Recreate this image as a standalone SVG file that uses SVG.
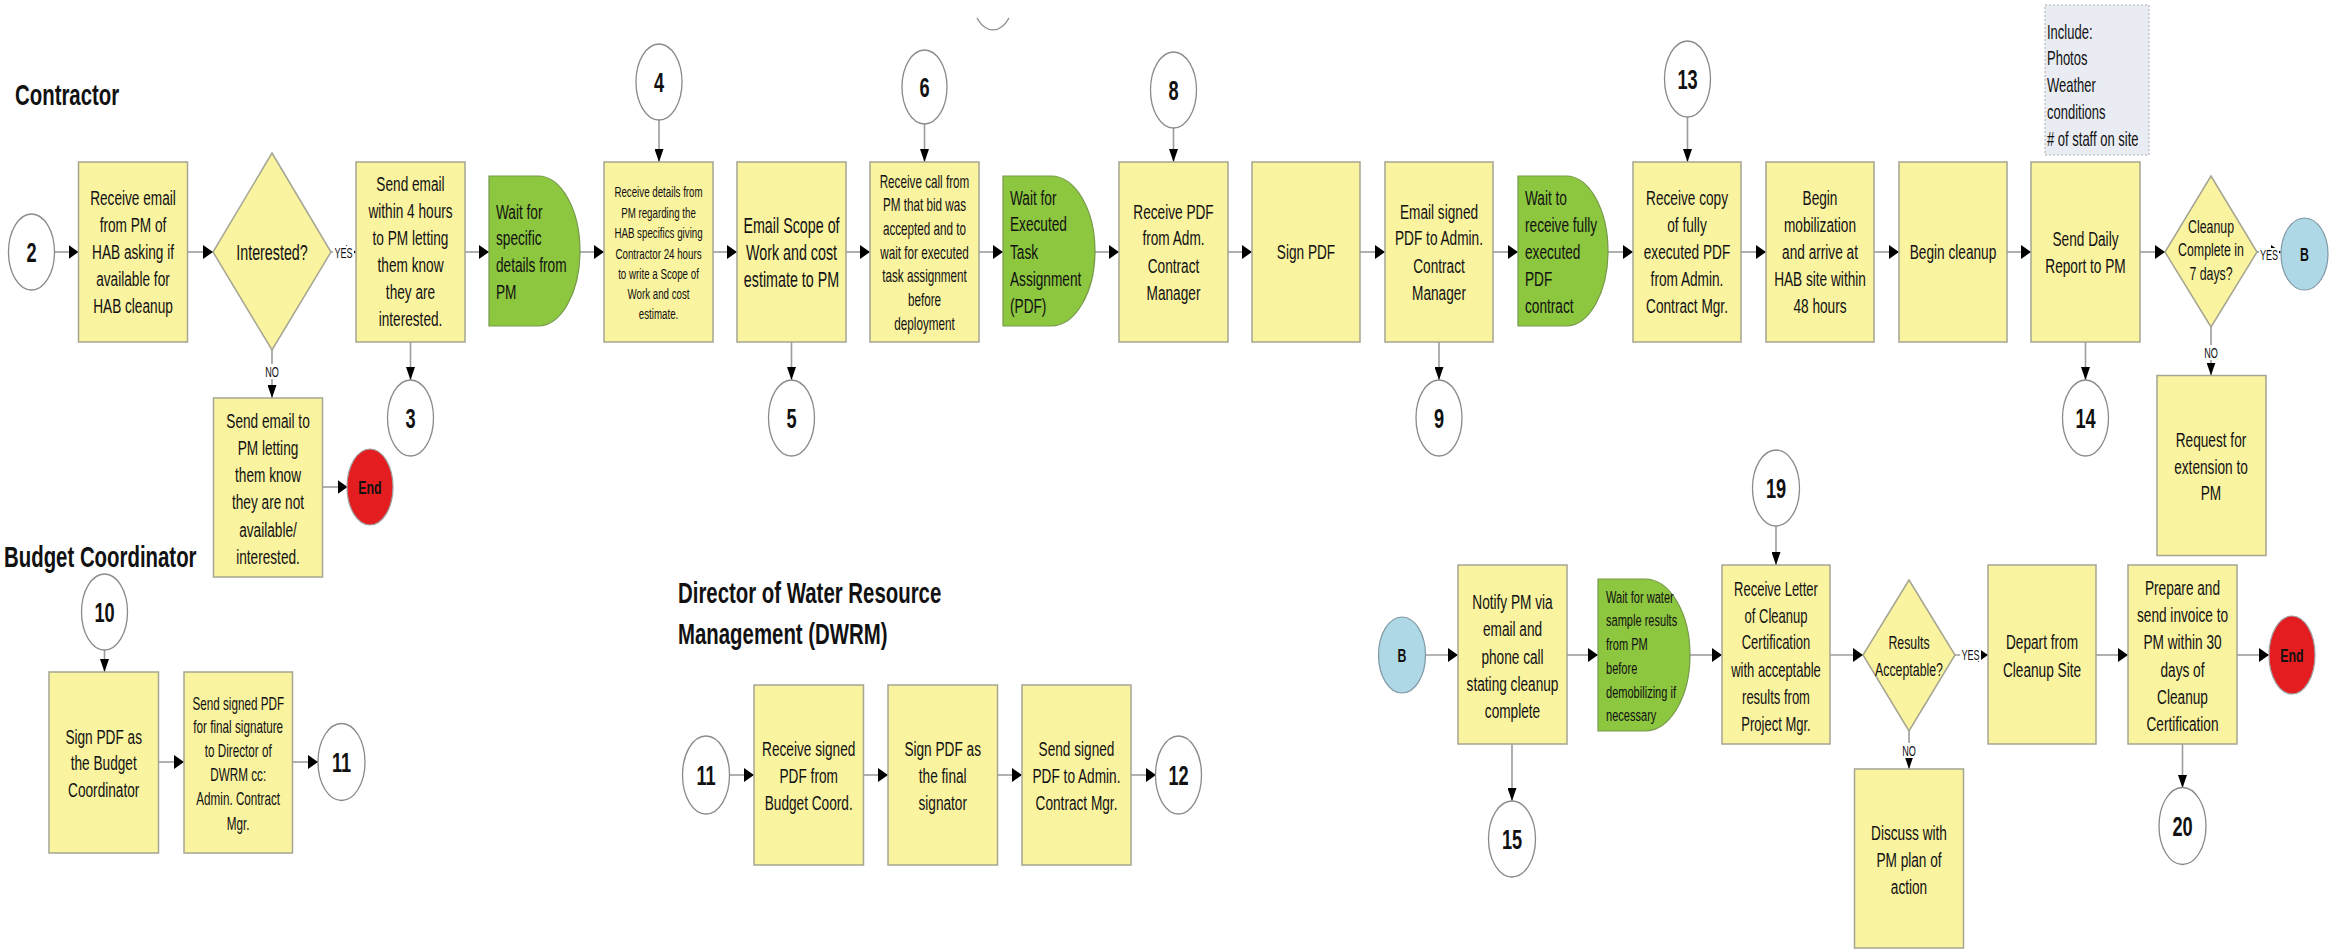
<svg xmlns="http://www.w3.org/2000/svg" width="2344" height="951" viewBox="0 0 2344 951">
<style>
.box{fill:#faf3a0;stroke:#a5a592;stroke-width:1.5}
.grn{fill:#8dc63f;stroke:#76994a;stroke-width:1.2}
.con{fill:#fff;stroke:#8a8a8a;stroke-width:1.3}
.end{fill:#e41e20;stroke:#a0a0a0;stroke-width:1.2}
.off{fill:#aed8e6;stroke:#7f98a5;stroke-width:1.2}
.note{fill:#e9ecf3;stroke:#aaaaaa;stroke-width:1;stroke-dasharray:2 2}
.t{font-family:"Liberation Sans",Arial,sans-serif;font-size:21px;text-anchor:middle;fill:#111}
.tl{text-anchor:start}
.b{font-weight:bold}
.h{font-size:30px;font-weight:bold;text-anchor:start}
.n{font-size:28px;font-weight:bold}
.lbl{font-size:14px}
.edge{fill:none;stroke:#9c9c9c;stroke-width:1.6;marker-end:url(#ah)}
.ev{marker-end:url(#av)}
.lb{fill:#fff}
</style>
<defs>
<marker id="ah" markerUnits="userSpaceOnUse" markerWidth="10" markerHeight="14" refX="10" refY="7" orient="auto" viewBox="0 0 10 14"><path d="M0,0 L10,7 L0,14 z" fill="#000"/></marker>
<marker id="av" markerUnits="userSpaceOnUse" markerWidth="13" markerHeight="9" refX="13" refY="4.5" orient="auto" viewBox="0 0 13 9"><path d="M0,0 L13,4.5 L0,9 z" fill="#000"/></marker>
</defs>
<rect width="2344" height="951" fill="#fff"/>

<g id="lane-labels">
<g transform="translate(15 0) scale(.68 1)"><text class="t h" x="0" y="105">Contractor</text></g>
<g transform="translate(4 0) scale(.68 1)"><text class="t h" x="0" y="567">Budget Coordinator</text></g>
<g transform="translate(678 0) scale(.68 1)"><text class="t h"><tspan x="0" y="603">Director of Water Resource</tspan><tspan x="0" y="644">Management (DWRM)</tspan></text></g>
</g>

<g id="connectors">
<line class="edge" x1="54.5" y1="252" x2="78.5" y2="252"/>
<line class="edge" x1="187.5" y1="252" x2="213" y2="252"/>
<line class="edge" x1="331" y1="252" x2="356" y2="252"/>
<line class="edge ev" x1="272" y1="350" x2="272" y2="398"/>
<line class="edge" x1="322" y1="487" x2="347.5" y2="487"/>
<line class="edge ev" x1="410.5" y1="342" x2="410.5" y2="380"/>
<line class="edge" x1="465" y1="252" x2="489" y2="252"/>
<line class="edge" x1="580" y1="252" x2="604" y2="252"/>
<line class="edge ev" x1="659" y1="120" x2="659" y2="162"/>
<line class="edge" x1="713" y1="252" x2="737" y2="252"/>
<line class="edge ev" x1="791.5" y1="342" x2="791.5" y2="380"/>
<line class="edge" x1="846" y1="252" x2="870" y2="252"/>
<line class="edge ev" x1="924.5" y1="124" x2="924.5" y2="162"/>
<line class="edge" x1="979" y1="252" x2="1003" y2="252"/>
<line class="edge" x1="1095" y1="252" x2="1119" y2="252"/>
<line class="edge ev" x1="1173.5" y1="128" x2="1173.5" y2="162"/>
<line class="edge" x1="1228" y1="252" x2="1252" y2="252"/>
<line class="edge" x1="1360" y1="252" x2="1385" y2="252"/>
<line class="edge ev" x1="1439" y1="342" x2="1439" y2="380"/>
<line class="edge" x1="1493" y1="252" x2="1518" y2="252"/>
<line class="edge" x1="1608" y1="252" x2="1633" y2="252"/>
<line class="edge ev" x1="1687.5" y1="117" x2="1687.5" y2="162"/>
<line class="edge" x1="1741" y1="252" x2="1766" y2="252"/>
<line class="edge" x1="1874" y1="252" x2="1899" y2="252"/>
<line class="edge" x1="2007" y1="252" x2="2031" y2="252"/>
<line class="edge ev" x1="2085.5" y1="342" x2="2085.5" y2="380"/>
<line class="edge" x1="2140" y1="252" x2="2165" y2="252"/>
<line class="edge" x1="2257" y1="252" x2="2281" y2="252"/>
<line class="edge ev" x1="2211" y1="327" x2="2211" y2="375.5"/>
<line class="edge ev" x1="104.5" y1="650" x2="104.5" y2="672"/>
<line class="edge" x1="158.5" y1="762" x2="184" y2="762"/>
<line class="edge" x1="292.5" y1="762" x2="318" y2="762"/>
<line class="edge" x1="729.5" y1="775" x2="754" y2="775"/>
<line class="edge" x1="863.5" y1="775" x2="888" y2="775"/>
<line class="edge" x1="997.5" y1="775" x2="1022" y2="775"/>
<line class="edge" x1="1131" y1="775" x2="1156" y2="775"/>
<line class="edge" x1="1425.5" y1="655" x2="1458" y2="655"/>
<line class="edge" x1="1567" y1="655" x2="1598" y2="655"/>
<line class="edge ev" x1="1512" y1="744" x2="1512" y2="801"/>
<line class="edge" x1="1690" y1="655" x2="1722" y2="655"/>
<line class="edge ev" x1="1776" y1="526" x2="1776" y2="565"/>
<line class="edge" x1="1830" y1="655" x2="1863" y2="655"/>
<line class="edge" x1="1955" y1="655" x2="1988" y2="655"/>
<line class="edge ev" x1="1909" y1="731" x2="1909" y2="769"/>
<line class="edge" x1="2096" y1="655" x2="2128" y2="655"/>
<line class="edge" x1="2237" y1="655" x2="2269" y2="655"/>
<line class="edge ev" x1="2182.5" y1="744" x2="2182.5" y2="788"/>
<rect class="lb" x="333" y="246" width="21" height="13"/>
<g transform="translate(343.5 0) scale(.65 1)"><text class="t lbl" x="0" y="258">YES</text></g>
<rect class="lb" x="262" y="364" width="20" height="15"/>
<g transform="translate(272 0) scale(.65 1)"><text class="t lbl" x="0" y="377">NO</text></g>
<rect class="lb" x="2259" y="248" width="20" height="13"/>
<g transform="translate(2269 0) scale(.65 1)"><text class="t lbl" x="0" y="260">YES</text></g>
<rect class="lb" x="2201" y="345" width="20" height="15"/>
<g transform="translate(2211 0) scale(.65 1)"><text class="t lbl" x="0" y="358">NO</text></g>
<rect class="lb" x="1960" y="648" width="21" height="13"/>
<g transform="translate(1970.5 0) scale(.65 1)"><text class="t lbl" x="0" y="660">YES</text></g>
<rect class="lb" x="1899" y="743" width="20" height="15"/>
<g transform="translate(1909 0) scale(.65 1)"><text class="t lbl" x="0" y="756">NO</text></g>
</g>

<g id="c-top-partial"><path d="M977,18 A22,38 0 0 0 1009,18" fill="none" stroke="#8a8a8a" stroke-width="1.3"/></g>

<g id="c2"><ellipse class="con" cx="31.5" cy="252" rx="23" ry="38"/><g transform="translate(31.5 0) scale(.65 1)"><text class="t n" x="0" y="262">2</text></g></g>

<g id="s1"><rect class="box" x="78.5" y="162" width="109" height="180"/><g transform="translate(133 0) scale(.65 1)"><text class="t"><tspan x="0" y="205">Receive email</tspan><tspan x="0" y="232">from PM of</tspan><tspan x="0" y="259">HAB asking if</tspan><tspan x="0" y="286">available for</tspan><tspan x="0" y="313">HAB cleanup</tspan></text></g></g>

<g id="d1"><polygon class="box" points="272,153 331,252 272,350 213,252"/><g transform="translate(272 0) scale(.65 1)"><text class="t" style="font-size:22px" x="0" y="260">Interested?</text></g></g>

<g id="s-no"><rect class="box" x="213.5" y="398" width="109" height="179"/><g transform="translate(268 0) scale(.65 1)"><text class="t"><tspan x="0" y="428">Send email to</tspan><tspan x="0" y="455.5">PM letting</tspan><tspan x="0" y="482">them know</tspan><tspan x="0" y="509.5">they are not</tspan><tspan x="0" y="537">available/</tspan><tspan x="0" y="564">interested.</tspan></text></g></g>

<g id="end1"><ellipse class="end" cx="370" cy="487" rx="23" ry="38"/><g transform="translate(370 0) scale(.65 1)"><text class="t b" style="font-size:19px" x="0" y="494">End</text></g></g>

<g id="s3"><rect class="box" x="356" y="162" width="109" height="180"/><g transform="translate(410.5 0) scale(.65 1)"><text class="t"><tspan x="0" y="191">Send email</tspan><tspan x="0" y="218">within 4 hours</tspan><tspan x="0" y="245">to PM letting</tspan><tspan x="0" y="272">them know</tspan><tspan x="0" y="299">they are</tspan><tspan x="0" y="326">interested.</tspan></text></g></g>

<g id="c3"><ellipse class="con" cx="410.5" cy="418" rx="23" ry="38"/><g transform="translate(410.5 0) scale(.65 1)"><text class="t n" x="0" y="428">3</text></g></g>

<g id="w1"><path class="grn" d="M489,176 H538 A42,75 0 0 1 580,251 A42,75 0 0 1 538,326 H489 Z"/><g transform="translate(496 0) scale(.65 1)"><text class="t tl"><tspan x="0" y="219">Wait for</tspan><tspan x="0" y="245">specific</tspan><tspan x="0" y="272">details from</tspan><tspan x="0" y="299">PM</tspan></text></g></g>

<g id="c4"><ellipse class="con" cx="659" cy="82" rx="23" ry="38"/><g transform="translate(659 0) scale(.65 1)"><text class="t n" x="0" y="92">4</text></g></g>

<g id="s4"><rect class="box" x="604" y="162" width="109" height="180"/><g transform="translate(658.5 0) scale(.65 1)"><text class="t" style="font-size:15px"><tspan x="0" y="197">Receive details from</tspan><tspan x="0" y="218">PM regarding the</tspan><tspan x="0" y="238">HAB specifics giving</tspan><tspan x="0" y="259">Contractor 24 hours</tspan><tspan x="0" y="279">to write a Scope of</tspan><tspan x="0" y="299">Work and cost</tspan><tspan x="0" y="319">estimate.</tspan></text></g></g>

<g id="s5"><rect class="box" x="737" y="162" width="109" height="180"/><g transform="translate(791.5 0) scale(.65 1)"><text class="t" style="font-size:22px"><tspan x="0" y="233">Email Scope of</tspan><tspan x="0" y="260">Work and cost</tspan><tspan x="0" y="287">estimate to PM</tspan></text></g></g>

<g id="c5"><ellipse class="con" cx="791.5" cy="418" rx="23" ry="38"/><g transform="translate(791.5 0) scale(.65 1)"><text class="t n" x="0" y="428">5</text></g></g>

<g id="c6"><ellipse class="con" cx="924.5" cy="87" rx="22.5" ry="37"/><g transform="translate(924.5 0) scale(.65 1)"><text class="t n" x="0" y="97">6</text></g></g>

<g id="s6"><rect class="box" x="870" y="162" width="109" height="180"/><g transform="translate(924.5 0) scale(.65 1)"><text class="t" style="font-size:18px"><tspan x="0" y="188">Receive call from</tspan><tspan x="0" y="211.5">PM that bid was</tspan><tspan x="0" y="235.5">accepted and to</tspan><tspan x="0" y="259">wait for executed</tspan><tspan x="0" y="282.5">task assignment</tspan><tspan x="0" y="306.5">before</tspan><tspan x="0" y="330">deployment</tspan></text></g></g>

<g id="w2"><path class="grn" d="M1003,176 H1051 A44,75 0 0 1 1095,251 A44,75 0 0 1 1051,326 H1003 Z"/><g transform="translate(1010 0) scale(.65 1)"><text class="t tl"><tspan x="0" y="205">Wait for</tspan><tspan x="0" y="231.5">Executed</tspan><tspan x="0" y="259">Task</tspan><tspan x="0" y="286">Assignment</tspan><tspan x="0" y="313">(PDF)</tspan></text></g></g>

<g id="c8"><ellipse class="con" cx="1173.5" cy="90" rx="23" ry="38"/><g transform="translate(1173.5 0) scale(.65 1)"><text class="t n" x="0" y="100">8</text></g></g>

<g id="s8"><rect class="box" x="1119" y="162" width="109" height="180"/><g transform="translate(1173.5 0) scale(.65 1)"><text class="t"><tspan x="0" y="219">Receive PDF</tspan><tspan x="0" y="245.5">from Adm.</tspan><tspan x="0" y="273">Contract</tspan><tspan x="0" y="300.5">Manager</tspan></text></g></g>

<g id="s9"><rect class="box" x="1252" y="162" width="108" height="180"/><g transform="translate(1306 0) scale(.65 1)"><text class="t" x="0" y="259">Sign PDF</text></g></g>

<g id="s10"><rect class="box" x="1385" y="162" width="108" height="180"/><g transform="translate(1439 0) scale(.65 1)"><text class="t"><tspan x="0" y="219">Email signed</tspan><tspan x="0" y="245.5">PDF to Admin.</tspan><tspan x="0" y="273">Contract</tspan><tspan x="0" y="300.5">Manager</tspan></text></g></g>

<g id="c9"><ellipse class="con" cx="1439" cy="418" rx="23" ry="38"/><g transform="translate(1439 0) scale(.65 1)"><text class="t n" x="0" y="428">9</text></g></g>

<g id="w3"><path class="grn" d="M1518,176 H1566 A42,75 0 0 1 1608,251 A42,75 0 0 1 1566,326 H1518 Z"/><g transform="translate(1525 0) scale(.65 1)"><text class="t tl"><tspan x="0" y="205">Wait to</tspan><tspan x="0" y="232">receive fully</tspan><tspan x="0" y="259.5">executed</tspan><tspan x="0" y="286">PDF</tspan><tspan x="0" y="313">contract</tspan></text></g></g>

<g id="c13"><ellipse class="con" cx="1687.5" cy="79" rx="23" ry="38"/><g transform="translate(1687.5 0) scale(.65 1)"><text class="t n" x="0" y="89">13</text></g></g>

<g id="s11"><rect class="box" x="1633" y="162" width="108" height="180"/><g transform="translate(1687 0) scale(.65 1)"><text class="t"><tspan x="0" y="205">Receive copy</tspan><tspan x="0" y="232">of fully</tspan><tspan x="0" y="259">executed PDF</tspan><tspan x="0" y="286">from Admin.</tspan><tspan x="0" y="313">Contract Mgr.</tspan></text></g></g>

<g id="s12"><rect class="box" x="1766" y="162" width="108" height="180"/><g transform="translate(1820 0) scale(.65 1)"><text class="t"><tspan x="0" y="205">Begin</tspan><tspan x="0" y="232">mobilization</tspan><tspan x="0" y="259">and arrive at</tspan><tspan x="0" y="286">HAB site within</tspan><tspan x="0" y="313">48 hours</tspan></text></g></g>

<g id="s13"><rect class="box" x="1899" y="162" width="108" height="180"/><g transform="translate(1953 0) scale(.65 1)"><text class="t" x="0" y="259">Begin cleanup</text></g></g>

<g id="note"><rect class="note" x="2045" y="5" width="104" height="150"/><g transform="translate(2047 0) scale(.65 1)"><text class="t tl" style="font-size:20px"><tspan x="0" y="39">Include:</tspan><tspan x="0" y="65.5">Photos</tspan><tspan x="0" y="92">Weather</tspan><tspan x="0" y="119.5">conditions</tspan><tspan x="0" y="146.5"># of staff on site</tspan></text></g></g>

<g id="s14"><rect class="box" x="2031" y="162" width="109" height="180"/><g transform="translate(2085.5 0) scale(.65 1)"><text class="t"><tspan x="0" y="246">Send Daily</tspan><tspan x="0" y="273">Report to PM</tspan></text></g></g>

<g id="c14"><ellipse class="con" cx="2085.5" cy="418" rx="23" ry="38"/><g transform="translate(2085.5 0) scale(.65 1)"><text class="t n" x="0" y="428">14</text></g></g>

<g id="d2"><polygon class="box" points="2211,176 2257,252 2211,327 2165,252"/><g transform="translate(2211 0) scale(.65 1)"><text class="t" style="font-size:19px"><tspan x="0" y="233">Cleanup</tspan><tspan x="0" y="256.5">Complete in</tspan><tspan x="0" y="280">7 days?</tspan></text></g></g>

<g id="b1"><ellipse class="off" cx="2304.5" cy="254" rx="23.5" ry="36"/><g transform="translate(2304.5 0) scale(.65 1)"><text class="t b" style="font-size:19px" x="0" y="261">B</text></g></g>

<g id="s-ext"><rect class="box" x="2157" y="375.5" width="109" height="180"/><g transform="translate(2211 0) scale(.65 1)"><text class="t"><tspan x="0" y="447">Request for</tspan><tspan x="0" y="474">extension to</tspan><tspan x="0" y="500">PM</tspan></text></g></g>

<g id="c10"><ellipse class="con" cx="104.5" cy="612" rx="23" ry="38"/><g transform="translate(104.5 0) scale(.65 1)"><text class="t n" x="0" y="622">10</text></g></g>

<g id="bc1"><rect class="box" x="49" y="672" width="109.5" height="181"/><g transform="translate(103.7 0) scale(.65 1)"><text class="t"><tspan x="0" y="744">Sign PDF as</tspan><tspan x="0" y="770.5">the Budget</tspan><tspan x="0" y="797">Coordinator</tspan></text></g></g>

<g id="bc2"><rect class="box" x="184" y="672" width="108.5" height="181"/><g transform="translate(238.2 0) scale(.65 1)"><text class="t" style="font-size:18px"><tspan x="0" y="710">Send signed PDF</tspan><tspan x="0" y="733.5">for final signature</tspan><tspan x="0" y="757.5">to Director of</tspan><tspan x="0" y="781">DWRM cc:</tspan><tspan x="0" y="805">Admin. Contract</tspan><tspan x="0" y="830">Mgr.</tspan></text></g></g>

<g id="c11a"><ellipse class="con" cx="341.5" cy="762" rx="23.5" ry="38.5"/><g transform="translate(341.5 0) scale(.65 1)"><text class="t n" x="0" y="772">11</text></g></g>

<g id="c11b"><ellipse class="con" cx="706" cy="775" rx="23.5" ry="39"/><g transform="translate(706 0) scale(.65 1)"><text class="t n" x="0" y="785">11</text></g></g>

<g id="dw1"><rect class="box" x="754" y="685" width="109.5" height="180"/><g transform="translate(808.7 0) scale(.65 1)"><text class="t"><tspan x="0" y="756.5">Receive signed</tspan><tspan x="0" y="783">PDF from</tspan><tspan x="0" y="810.5">Budget Coord.</tspan></text></g></g>

<g id="dw2"><rect class="box" x="888" y="685" width="109.5" height="180"/><g transform="translate(942.7 0) scale(.65 1)"><text class="t"><tspan x="0" y="756.5">Sign PDF as</tspan><tspan x="0" y="783">the final</tspan><tspan x="0" y="810.5">signator</tspan></text></g></g>

<g id="dw3"><rect class="box" x="1022" y="685" width="109" height="180"/><g transform="translate(1076.5 0) scale(.65 1)"><text class="t"><tspan x="0" y="756.5">Send signed</tspan><tspan x="0" y="783">PDF to Admin.</tspan><tspan x="0" y="810.5">Contract Mgr.</tspan></text></g></g>

<g id="c12"><ellipse class="con" cx="1178.5" cy="775" rx="23" ry="39"/><g transform="translate(1178.5 0) scale(.65 1)"><text class="t n" x="0" y="785">12</text></g></g>

<g id="b2"><ellipse class="off" cx="1402" cy="655" rx="23.5" ry="38"/><g transform="translate(1402 0) scale(.65 1)"><text class="t b" style="font-size:19px" x="0" y="662">B</text></g></g>

<g id="s15"><rect class="box" x="1458" y="565" width="109" height="179"/><g transform="translate(1512.5 0) scale(.65 1)"><text class="t"><tspan x="0" y="609">Notify PM via</tspan><tspan x="0" y="636">email and</tspan><tspan x="0" y="664">phone call</tspan><tspan x="0" y="691">stating cleanup</tspan><tspan x="0" y="718">complete</tspan></text></g></g>

<g id="c15"><ellipse class="con" cx="1512" cy="839" rx="23.5" ry="38"/><g transform="translate(1512 0) scale(.65 1)"><text class="t n" x="0" y="849">15</text></g></g>

<g id="w4"><path class="grn" d="M1598,579 H1645 A45,76 0 0 1 1690,655 A45,76 0 0 1 1645,731 H1598 Z"/><g transform="translate(1606 0) scale(.65 1)"><text class="t tl" style="font-size:17px"><tspan x="0" y="603">Wait for water</tspan><tspan x="0" y="626.5">sample results</tspan><tspan x="0" y="650">from PM</tspan><tspan x="0" y="674">before</tspan><tspan x="0" y="698">demobilizing if</tspan><tspan x="0" y="721">necessary</tspan></text></g></g>

<g id="c19"><ellipse class="con" cx="1776" cy="488" rx="23.5" ry="38"/><g transform="translate(1776 0) scale(.65 1)"><text class="t n" x="0" y="498">19</text></g></g>

<g id="s19"><rect class="box" x="1722" y="565" width="108" height="179"/><g transform="translate(1776 0) scale(.65 1)"><text class="t" style="font-size:20px"><tspan x="0" y="595.5">Receive Letter</tspan><tspan x="0" y="623">of Cleanup</tspan><tspan x="0" y="649.5">Certification</tspan><tspan x="0" y="677">with acceptable</tspan><tspan x="0" y="704">results from</tspan><tspan x="0" y="731">Project Mgr.</tspan></text></g></g>

<g id="d3"><polygon class="box" points="1909,580 1955,655 1909,731 1863,655"/><g transform="translate(1909 0) scale(.65 1)"><text class="t" style="font-size:19px"><tspan x="0" y="649">Results</tspan><tspan x="0" y="676">Acceptable?</tspan></text></g></g>

<g id="s-discuss"><rect class="box" x="1854.5" y="769" width="109" height="179"/><g transform="translate(1909 0) scale(.65 1)"><text class="t"><tspan x="0" y="840">Discuss with</tspan><tspan x="0" y="867">PM plan of</tspan><tspan x="0" y="894">action</tspan></text></g></g>

<g id="s-depart"><rect class="box" x="1988" y="565" width="108" height="179"/><g transform="translate(2042 0) scale(.65 1)"><text class="t"><tspan x="0" y="649.5">Depart from</tspan><tspan x="0" y="677">Cleanup Site</tspan></text></g></g>

<g id="s-invoice"><rect class="box" x="2128" y="565" width="109" height="179"/><g transform="translate(2182.5 0) scale(.65 1)"><text class="t"><tspan x="0" y="595">Prepare and</tspan><tspan x="0" y="622">send invoice to</tspan><tspan x="0" y="649">PM within 30</tspan><tspan x="0" y="677">days of</tspan><tspan x="0" y="704">Cleanup</tspan><tspan x="0" y="731">Certification</tspan></text></g></g>

<g id="end2"><ellipse class="end" cx="2292" cy="655" rx="23" ry="39"/><g transform="translate(2292 0) scale(.65 1)"><text class="t b" style="font-size:19px" x="0" y="662">End</text></g></g>

<g id="c20"><ellipse class="con" cx="2182.5" cy="826" rx="23.5" ry="38.5"/><g transform="translate(2182.5 0) scale(.65 1)"><text class="t n" x="0" y="836">20</text></g></g>
</svg>
